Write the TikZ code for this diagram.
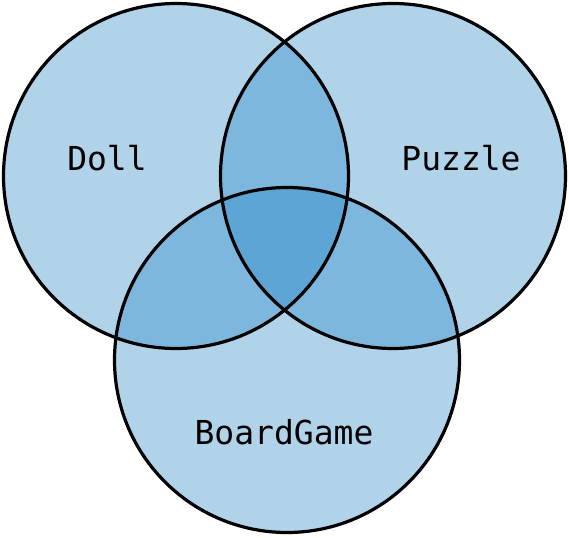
\documentclass[tikz,border=0pt]{standalone}
\usepackage{fontspec}
\setmonofont{DejaVu Sans Mono}
\usepackage{tikz}
\usetikzlibrary{positioning}
\definecolor{vennblue}{RGB}{32,131,196}

\begin{document}
\begin{tikzpicture}[x=1pt, y=-1pt,
    setc/.style={circle, fill=vennblue, fill opacity=0.354, minimum size=345pt, inner sep=0pt},
    seto/.style={circle, draw=black, line width=3.2pt, minimum size=345pt, inner sep=0pt},
    setlbl/.style={font=\fontsize{33}{40}\selectfont\ttfamily, text=black, inner sep=0pt}
]
\useasboundingbox (0,0) rectangle (569,537);
% filled sets
\node[setc] (doll) at (176,176) {};
\node[setc] (puzzle) at (393,176) {};
\node[setc] (board) at (287,360) {};
% outlines on top
\foreach \s in {doll,puzzle,board}
    \node[seto] at (\s) {};

\node[setlbl] (dolllbl) at (107,158) {Doll};
\node[setlbl] (puzzlelbl) at (461,158) {Puzzle};
\node[setlbl] (boardlbl) at (284,432) {BoardGame};
\end{tikzpicture}
\end{document}
